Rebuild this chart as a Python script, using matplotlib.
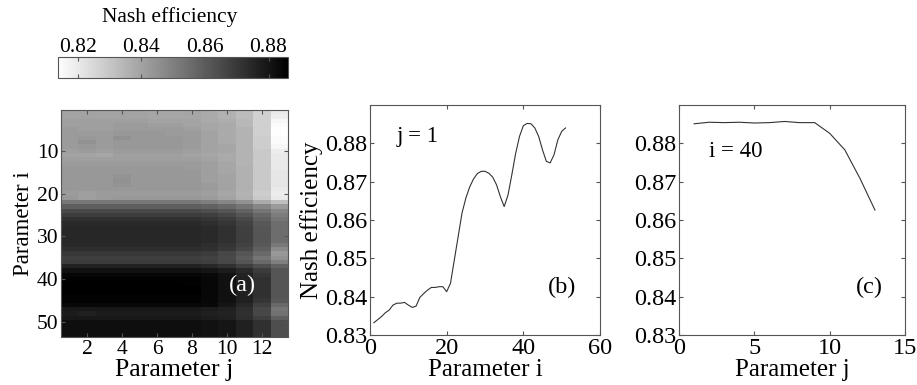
import numpy as np
import matplotlib
matplotlib.use("Agg")
import matplotlib.pyplot as plt

plt.rcParams["font.family"] = ["Liberation Serif", "DejaVu Serif"]

# heatmap: Nash efficiency, rows i = 1..53, columns j = 1..13
nash_grid = [
    [0.840, 0.840, 0.840, 0.840, 0.840, 0.839, 0.839, 0.839, 0.838, 0.836, 0.833, 0.827, 0.820],
    [0.840, 0.840, 0.840, 0.840, 0.840, 0.839, 0.839, 0.839, 0.838, 0.836, 0.833, 0.827, 0.819],
    [0.841, 0.841, 0.841, 0.841, 0.841, 0.840, 0.840, 0.840, 0.838, 0.837, 0.834, 0.827, 0.816],
    [0.841, 0.841, 0.841, 0.842, 0.842, 0.841, 0.841, 0.840, 0.839, 0.838, 0.834, 0.827, 0.815],
    [0.842, 0.841, 0.841, 0.842, 0.842, 0.842, 0.842, 0.841, 0.839, 0.838, 0.835, 0.827, 0.814],
    [0.842, 0.842, 0.842, 0.843, 0.843, 0.843, 0.842, 0.842, 0.840, 0.838, 0.835, 0.827, 0.814],
    [0.842, 0.843, 0.842, 0.845, 0.843, 0.843, 0.843, 0.842, 0.840, 0.838, 0.835, 0.828, 0.815],
    [0.842, 0.845, 0.842, 0.843, 0.843, 0.843, 0.843, 0.842, 0.840, 0.838, 0.835, 0.828, 0.815],
    [0.842, 0.843, 0.842, 0.843, 0.843, 0.843, 0.843, 0.842, 0.840, 0.839, 0.835, 0.828, 0.816],
    [0.841, 0.842, 0.841, 0.842, 0.842, 0.842, 0.842, 0.841, 0.840, 0.839, 0.835, 0.829, 0.819],
    [0.840, 0.840, 0.839, 0.841, 0.841, 0.841, 0.841, 0.840, 0.839, 0.838, 0.835, 0.829, 0.820],
    [0.841, 0.841, 0.841, 0.841, 0.841, 0.841, 0.841, 0.841, 0.840, 0.838, 0.835, 0.829, 0.820],
    [0.842, 0.842, 0.842, 0.842, 0.842, 0.842, 0.842, 0.842, 0.841, 0.839, 0.835, 0.829, 0.820],
    [0.843, 0.843, 0.843, 0.843, 0.843, 0.843, 0.843, 0.842, 0.841, 0.839, 0.836, 0.829, 0.820],
    [0.843, 0.843, 0.843, 0.843, 0.843, 0.843, 0.843, 0.843, 0.841, 0.839, 0.836, 0.829, 0.821],
    [0.843, 0.843, 0.843, 0.844, 0.843, 0.843, 0.843, 0.843, 0.841, 0.840, 0.836, 0.829, 0.821],
    [0.843, 0.843, 0.843, 0.845, 0.843, 0.843, 0.843, 0.843, 0.841, 0.840, 0.836, 0.829, 0.821],
    [0.843, 0.843, 0.843, 0.844, 0.843, 0.843, 0.843, 0.843, 0.842, 0.840, 0.836, 0.829, 0.821],
    [0.843, 0.843, 0.843, 0.843, 0.843, 0.843, 0.843, 0.843, 0.842, 0.840, 0.836, 0.829, 0.820],
    [0.842, 0.841, 0.842, 0.842, 0.842, 0.842, 0.842, 0.842, 0.841, 0.839, 0.835, 0.828, 0.819],
    [0.843, 0.841, 0.842, 0.843, 0.843, 0.843, 0.843, 0.843, 0.842, 0.840, 0.836, 0.829, 0.820],
    [0.852, 0.852, 0.852, 0.852, 0.852, 0.852, 0.852, 0.852, 0.850, 0.848, 0.845, 0.838, 0.832],
    [0.859, 0.859, 0.859, 0.859, 0.859, 0.859, 0.859, 0.859, 0.858, 0.856, 0.853, 0.848, 0.842],
    [0.865, 0.865, 0.865, 0.865, 0.865, 0.865, 0.865, 0.865, 0.864, 0.862, 0.858, 0.853, 0.848],
    [0.869, 0.869, 0.869, 0.869, 0.869, 0.869, 0.869, 0.869, 0.868, 0.866, 0.862, 0.857, 0.851],
    [0.872, 0.872, 0.872, 0.872, 0.872, 0.872, 0.872, 0.872, 0.871, 0.869, 0.865, 0.859, 0.853],
    [0.874, 0.874, 0.874, 0.874, 0.874, 0.874, 0.874, 0.874, 0.873, 0.871, 0.867, 0.861, 0.855],
    [0.875, 0.875, 0.875, 0.875, 0.875, 0.875, 0.875, 0.875, 0.874, 0.872, 0.868, 0.862, 0.855],
    [0.875, 0.875, 0.875, 0.875, 0.875, 0.875, 0.875, 0.875, 0.874, 0.872, 0.868, 0.862, 0.855],
    [0.875, 0.875, 0.875, 0.875, 0.875, 0.875, 0.875, 0.875, 0.874, 0.872, 0.868, 0.862, 0.855],
    [0.875, 0.875, 0.875, 0.875, 0.875, 0.875, 0.875, 0.875, 0.874, 0.872, 0.868, 0.862, 0.855],
    [0.874, 0.874, 0.874, 0.874, 0.874, 0.874, 0.874, 0.874, 0.873, 0.871, 0.867, 0.861, 0.852],
    [0.873, 0.873, 0.873, 0.873, 0.873, 0.873, 0.873, 0.873, 0.872, 0.870, 0.866, 0.859, 0.847],
    [0.870, 0.870, 0.870, 0.870, 0.870, 0.870, 0.870, 0.870, 0.869, 0.866, 0.862, 0.856, 0.843],
    [0.868, 0.868, 0.868, 0.868, 0.868, 0.868, 0.868, 0.868, 0.867, 0.865, 0.860, 0.853, 0.845],
    [0.869, 0.869, 0.869, 0.869, 0.869, 0.869, 0.869, 0.869, 0.868, 0.866, 0.862, 0.856, 0.850],
    [0.876, 0.876, 0.876, 0.876, 0.876, 0.876, 0.876, 0.876, 0.875, 0.872, 0.868, 0.864, 0.858],
    [0.881, 0.881, 0.881, 0.881, 0.881, 0.881, 0.881, 0.881, 0.880, 0.878, 0.874, 0.869, 0.862],
    [0.884, 0.884, 0.884, 0.884, 0.884, 0.884, 0.884, 0.884, 0.883, 0.881, 0.876, 0.871, 0.862],
    [0.885, 0.885, 0.885, 0.885, 0.885, 0.885, 0.885, 0.885, 0.884, 0.881, 0.877, 0.872, 0.862],
    [0.886, 0.886, 0.886, 0.886, 0.886, 0.886, 0.886, 0.885, 0.884, 0.881, 0.877, 0.872, 0.862],
    [0.886, 0.886, 0.886, 0.886, 0.886, 0.886, 0.886, 0.886, 0.884, 0.881, 0.877, 0.872, 0.862],
    [0.886, 0.886, 0.886, 0.886, 0.886, 0.886, 0.886, 0.886, 0.884, 0.881, 0.877, 0.872, 0.862],
    [0.885, 0.885, 0.885, 0.885, 0.885, 0.885, 0.885, 0.885, 0.884, 0.881, 0.877, 0.872, 0.862],
    [0.885, 0.885, 0.885, 0.885, 0.885, 0.885, 0.885, 0.885, 0.884, 0.881, 0.877, 0.871, 0.861],
    [0.884, 0.884, 0.884, 0.884, 0.884, 0.884, 0.884, 0.884, 0.883, 0.880, 0.875, 0.868, 0.856],
    [0.879, 0.879, 0.879, 0.879, 0.879, 0.879, 0.879, 0.879, 0.878, 0.877, 0.873, 0.866, 0.853],
    [0.878, 0.877, 0.878, 0.878, 0.878, 0.878, 0.878, 0.878, 0.877, 0.876, 0.872, 0.866, 0.854],
    [0.879, 0.879, 0.879, 0.879, 0.879, 0.879, 0.879, 0.879, 0.878, 0.877, 0.873, 0.868, 0.859],
    [0.882, 0.882, 0.882, 0.882, 0.882, 0.882, 0.882, 0.882, 0.881, 0.880, 0.877, 0.872, 0.864],
    [0.882, 0.882, 0.882, 0.882, 0.882, 0.882, 0.882, 0.882, 0.881, 0.880, 0.877, 0.872, 0.864],
    [0.882, 0.882, 0.882, 0.882, 0.882, 0.882, 0.882, 0.882, 0.881, 0.880, 0.877, 0.872, 0.864],
    [0.882, 0.882, 0.882, 0.882, 0.882, 0.882, 0.882, 0.882, 0.881, 0.880, 0.877, 0.872, 0.864],
]

# (b) j = 1, as a function of i
i_values = list(range(1, 52))
nash_j1 = [
    0.8332, 0.8340, 0.8348, 0.8358, 0.8365, 0.8378, 0.8383, 0.8383, 0.8385, 0.8378,
    0.8372, 0.8375, 0.8398, 0.8408, 0.8417, 0.8424, 0.8424, 0.8426, 0.8426, 0.8413,
    0.8435, 0.8496, 0.8557, 0.8618, 0.8657, 0.8686, 0.8707, 0.8721, 0.8727, 0.8727,
    0.8722, 0.8712, 0.8692, 0.8661, 0.8635, 0.8665, 0.8718, 0.8774, 0.8818, 0.8846,
    0.8852, 0.8851, 0.8840, 0.8818, 0.8783, 0.8753, 0.8749, 0.8770, 0.8809, 0.8831,
    0.8840,
]

# (c) i = 40, as a function of j
j_values = list(range(1, 14))
nash_i40 = [0.8851, 0.8855, 0.8854, 0.8855, 0.8853, 0.8854, 0.8857, 0.8854, 0.8854,
            0.8826, 0.8783, 0.8709, 0.8626]

cbar_ticks = [0.82, 0.84, 0.86, 0.88]
line_ticks = [0.83, 0.84, 0.85, 0.86, 0.87, 0.88]

spine_col = "#555555"


def style_axes(ax, size):
    for s in ax.spines.values():
        s.set_color(spine_col)
        s.set_linewidth(0.8)
    ax.tick_params(direction="in", top=True, right=True, length=3,
                   color=spine_col, labelsize=size, pad=2)


fig = plt.figure(figsize=(9.17, 3.85), dpi=100)

# heatmap
ax_a = fig.add_axes([0.0665, 0.1247, 0.2475, 0.5896])
grid = np.array(nash_grid)
im = ax_a.imshow(grid, cmap="gray_r", vmin=0.8137, vmax=0.8861, aspect="auto",
                 interpolation="nearest",
                 extent=[0.5, grid.shape[1] + 0.5, grid.shape[0] + 0.5, 0.5])
ax_a.set_xticks([2, 4, 6, 8, 10, 12])
ax_a.set_yticks([10, 20, 30, 40, 50])
style_axes(ax_a, 15.5)
ax_a.set_xlabel("Parameter j", fontsize=18.5, labelpad=0)
ax_a.set_ylabel("Parameter i", fontsize=16.5, labelpad=2)
ax_a.text(10.9, 41.5, "(a)", color="white", fontsize=17.5,
          ha="center", va="center")

# colorbar
cax = fig.add_axes([0.0632, 0.7974, 0.2508, 0.0545])
cb = fig.colorbar(im, cax=cax, orientation="horizontal", ticks=cbar_ticks)
cb.outline.set_edgecolor(spine_col)
cb.outline.set_linewidth(0.8)
cax.xaxis.set_ticks_position("both")
cax.tick_params(direction="in", length=3, color=spine_col, labelsize=15.5,
                labeltop=True, labelbottom=False, pad=0)
cax.set_xticklabels(["%.2f" % t for t in cbar_ticks])
fig.text(0.185, 0.955, "Nash efficiency", fontsize=15.5, ha="center", va="center")

# (b)
ax_b = fig.add_axes([0.4035, 0.1299, 0.2508, 0.5974])
ax_b.plot(i_values, nash_j1, color="#333333", lw=0.8)
ax_b.set_xlim(0, 60)
ax_b.set_ylim(0.83, 0.89)
ax_b.set_xticks([0, 20, 40, 60])
ax_b.set_yticks(line_ticks)
ax_b.set_yticklabels(["%.2f" % t for t in line_ticks])
style_axes(ax_b, 17.5)
ax_b.set_xlabel("Parameter i", fontsize=18, labelpad=0)
ax_b.set_ylabel("Nash efficiency", fontsize=18, labelpad=1)
ax_b.text(7, 0.8817, "j = 1", fontsize=16.5, ha="left", va="center")
ax_b.text(50.2, 0.8425, "(b)", fontsize=17.5, ha="center", va="center")

# (c)
ax_c = fig.add_axes([0.7405, 0.1299, 0.2465, 0.5974])
ax_c.plot(j_values, nash_i40, color="#333333", lw=0.8)
ax_c.set_xlim(0, 15)
ax_c.set_ylim(0.83, 0.89)
ax_c.set_xticks([0, 5, 10, 15])
ax_c.set_yticks(line_ticks)
ax_c.set_yticklabels(["%.2f" % t for t in line_ticks])
style_axes(ax_c, 17.5)
ax_c.set_xlabel("Parameter j", fontsize=18, labelpad=0)
ax_c.text(2.0, 0.8778, "i = 40", fontsize=16.5, ha="left", va="center")
ax_c.text(12.65, 0.8425, "(c)", fontsize=17.5, ha="center", va="center")

fig.savefig("out.png", dpi=100)
